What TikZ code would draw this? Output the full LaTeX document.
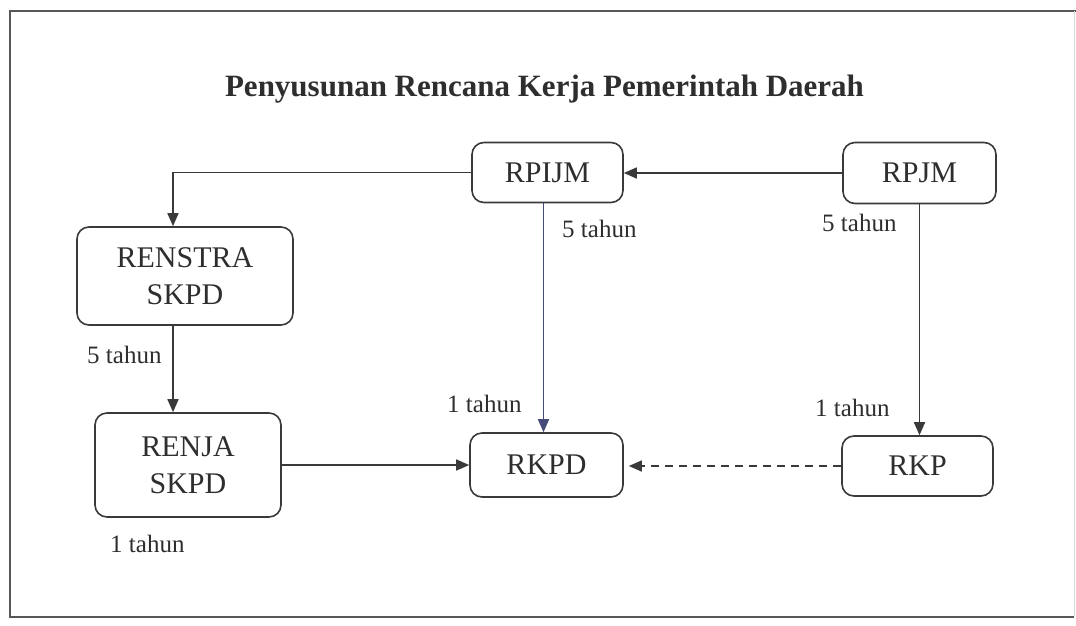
\documentclass[tikz,border=0pt]{standalone}
\usepackage{fontspec}
\setmainfont{Liberation Serif}
\usetikzlibrary{arrows.meta}
\definecolor{ink}{HTML}{3A3A3A}
\definecolor{txt}{HTML}{2E2E2E}
\definecolor{navy}{HTML}{464A78}
\begin{document}
\begin{tikzpicture}[x=1pt,y=-1pt,
  box/.style={draw=ink, line width=1.6pt, rounded corners=12pt, text=txt,
    align=center, font=\fontsize{30}{37}\selectfont, inner sep=0pt},
  lbl/.style={text=txt, font=\fontsize{25}{30}\selectfont, inner sep=0pt, anchor=base west},
  arr/.style={draw=ink, line width=1.6pt, -{Triangle[length=13pt,width=11pt]}},
  frameline/.style={draw=ink!85, line width=1.5pt}]
\useasboundingbox (0,0) rectangle (1076,625);

% outer frame
\draw[frameline] (1076,11) -- (10,11) -- (10,617) -- (1074,617);
\draw[draw=black!15, line width=1pt] (1074,11) -- (1074,617);

% title
\node[text=txt, font=\bfseries\fontsize{31}{36}\selectfont, inner sep=0pt, anchor=base]
  (title) at (544.5,96) {Penyusunan Rencana Kerja Pemerintah Daerah};

% boxes
\node[box, minimum width=151pt, minimum height=60pt] (rpijm) at (547.5,172.5) {RPIJM};
\node[box, minimum width=153pt, minimum height=61pt] (rpjm) at (919.5,173) {RPJM};
\node[box, minimum width=216pt, minimum height=98pt] (renstra) at (185,276) {RENSTRA\\SKPD};
\node[box, minimum width=186pt, minimum height=104pt] (renja) at (188,465) {RENJA\\SKPD};
\node[box, minimum width=153pt, minimum height=64pt] (rkpd) at (546.5,465) {RKPD};
\node[box, minimum width=151pt, minimum height=60pt] (rkp) at (917.5,466) {RKP};

% connectors
\draw[arr] (rpjm.west) -- (rpjm.west -| rpijm.east);
\draw[arr] (rpijm.west) -| ([xshift=-12pt]renstra.north);
\draw[arr] ([xshift=-12pt]renstra.south) -- ([xshift=-12pt]renstra.south |- renja.north);
\draw[arr, draw=navy] ([xshift=-4pt]rpijm.south) -- ([xshift=-4pt]rpijm.south |- rkpd.north);
\draw[arr] (rpjm.south) -- (rpjm.south |- rkp.north);
\draw[arr] (renja.east) -- (rkpd.west);
\draw[arr, dash pattern=on 8pt off 6pt, shorten >=5pt] (rkp.west) -- (rkp.west -| rkpd.east);

% duration labels
\node[lbl] (l1) at (562,237) {5 tahun};
\node[lbl] (l2) at (822,231) {5 tahun};
\node[lbl] (l3) at (87,363) {5 tahun};
\node[lbl] (l4) at (447,412) {1 tahun};
\node[lbl] (l5) at (815,416) {1 tahun};
\node[lbl] (l6) at (110,552) {1 tahun};
\end{tikzpicture}
\end{document}
